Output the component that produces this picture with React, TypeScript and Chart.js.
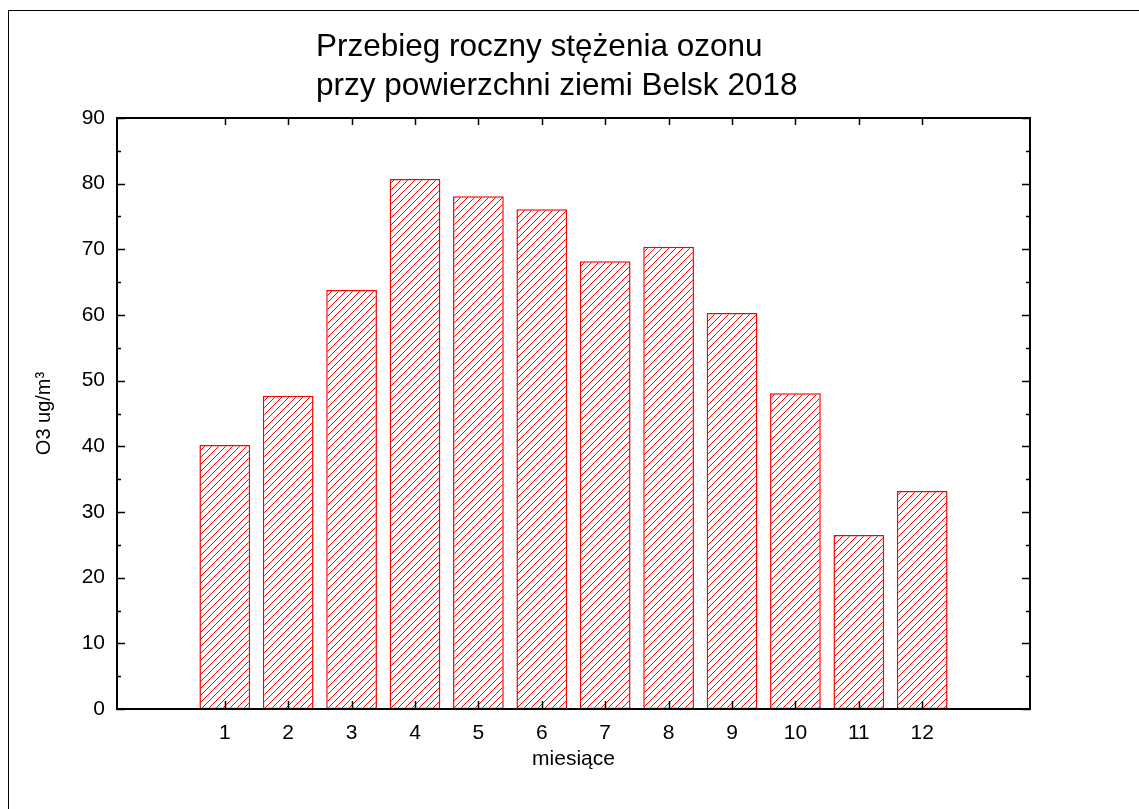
import React, { useEffect, useRef } from "react";
import { Chart, registerables } from "chart.js";

Chart.register(...registerables);

// ---- data ----
const MONTHS = [1, 2, 3, 4, 5, 6, 7, 8, 9, 10, 11, 12];
const OZONE = [40.2, 47.7, 63.8, 80.7, 78.1, 76.1, 68.2, 70.4, 60.3, 48.1, 26.5, 33.2];
const Y_MAJOR = [0, 10, 20, 30, 40, 50, 60, 70, 80, 90];
const Y_MINOR = [5, 15, 25, 35, 45, 55, 65, 75, 85];
const TITLE_LINES = ["Przebieg roczny stężenia ozonu", "przy powierzchni ziemi Belsk 2018"];
const X_TITLE = "miesiące";
const Y_TITLE = "O3 ug/m³";

const FONT = '"Liberation Sans", Arial, Helvetica, sans-serif';
const W = 1139;
const H = 809;

function makeHatch(): CanvasPattern | string {
  const c = document.createElement("canvas");
  const s = 7;
  c.width = s;
  c.height = s;
  const g = c.getContext("2d");
  if (!g) return "#ff0000";
  g.fillStyle = "#ffffff";
  g.fillRect(0, 0, s, s);
  g.fillStyle = "#ff0000";
  for (let i = 0; i < s; i++) {
    g.fillRect(i, s - 1 - i, 1, 1);
  }
  const p = g.createPattern(c, "repeat");
  return p || "#ff0000";
}

const decorPlugin = {
  id: "decor",
  beforeDraw(chart: any) {
    const ctx = chart.ctx as CanvasRenderingContext2D;
    ctx.save();
    ctx.fillStyle = "#ffffff";
    ctx.fillRect(0, 0, chart.width, chart.height);
    ctx.fillStyle = "#000000";
    ctx.fillRect(8, 10, 1, chart.height - 10);
    ctx.fillRect(8, 10, chart.width - 8, 1);
    ctx.font = `31.5px ${FONT}`;
    ctx.textAlign = "left";
    ctx.textBaseline = "alphabetic";
    ctx.fillText(TITLE_LINES[0], 316, 56);
    ctx.fillText(TITLE_LINES[1], 316, 95);
    ctx.restore();
  },
  afterDatasetsDraw(chart: any) {
    const ctx = chart.ctx as CanvasRenderingContext2D;
    const { left, right, top, bottom } = chart.chartArea;
    const xs = chart.scales.x;
    const ys = chart.scales.y;
    ctx.save();
    ctx.strokeStyle = "#000000";
    ctx.lineWidth = 1.5;
    ctx.beginPath();
    Y_MAJOR.forEach((v) => {
      const y = Math.round(ys.getPixelForValue(v)) + 0.5;
      ctx.moveTo(left, y);
      ctx.lineTo(left + 8, y);
      ctx.moveTo(right, y);
      ctx.lineTo(right - 8, y);
    });
    Y_MINOR.forEach((v) => {
      const y = Math.round(ys.getPixelForValue(v)) + 0.5;
      ctx.moveTo(left, y);
      ctx.lineTo(left + 4, y);
      ctx.moveTo(right, y);
      ctx.lineTo(right - 4, y);
    });
    MONTHS.forEach((m) => {
      const x = Math.round(xs.getPixelForValue(m)) + 0.5;
      ctx.moveTo(x, top);
      ctx.lineTo(x, top + 7);
      ctx.moveTo(x, bottom);
      ctx.lineTo(x, bottom - 8);
    });
    ctx.stroke();
    ctx.lineWidth = 2;
    ctx.strokeRect(left, top, right - left, bottom - top);
    ctx.restore();
  },
};

export default function App() {
  const ref = useRef<HTMLCanvasElement | null>(null);

  useEffect(() => {
    const canvas = ref.current;
    if (!canvas) return;
    const hatch = makeHatch();
    const chart = new Chart(canvas, {
      type: "bar",
      data: {
        datasets: [
          {
            label: "O3",
            data: MONTHS.map((m, i) => ({ x: m, y: OZONE[i] })),
            backgroundColor: hatch as any,
            borderColor: "#ff0000",
            borderWidth: 1.5,
            borderSkipped: false,
            barPercentage: 0.8,
            categoryPercentage: 1,
          },
        ],
      },
      options: {
        responsive: false,
        animation: false,
        devicePixelRatio: 1,
        layout: { padding: { left: 0, top: 118, right: 109, bottom: 0 } },
        plugins: {
          legend: { display: false },
          title: { display: false },
          tooltip: { enabled: false },
        },
        scales: {
          x: {
            type: "linear",
            min: -0.7,
            max: 13.7,
            offset: false,
            grid: { display: false, drawTicks: false },
            border: { display: false },
            afterBuildTicks: (scale: any) => {
              scale.ticks = MONTHS.map((v) => ({ value: v }));
            },
            afterFit: (scale: any) => {
              scale.height = 100;
            },
            ticks: {
              autoSkip: false,
              maxRotation: 0,
              padding: 12,
              color: "#000000",
              font: { family: FONT, size: 21 },
              callback: (v: any) => String(v),
            },
            title: {
              display: true,
              text: X_TITLE,
              color: "#000000",
              font: { family: FONT, size: 21 },
              padding: { top: 0, bottom: 37 },
            },
          },
          y: {
            min: 0,
            max: 90,
            grid: { display: false, drawTicks: false },
            border: { display: false },
            afterBuildTicks: (scale: any) => {
              scale.ticks = Y_MAJOR.map((v) => ({ value: v }));
            },
            afterFit: (scale: any) => {
              scale.width = 117;
            },
            ticks: {
              padding: 12,
              color: "#000000",
              font: { family: FONT, size: 21 },
              callback: (v: any) => String(v),
            },
            title: {
              display: true,
              text: Y_TITLE,
              color: "#000000",
              font: { family: FONT, size: 20 },
              padding: { top: 32, bottom: 0 },
            },
          },
        },
      },
      plugins: [decorPlugin],
    });
    return () => chart.destroy();
  }, []);

  return (
    <div style={{ position: "absolute", left: 0, top: 0, width: W, height: H }}>
      <canvas ref={ref} width={W} height={H} style={{ display: "block", width: W, height: H }} />
    </div>
  );
}
